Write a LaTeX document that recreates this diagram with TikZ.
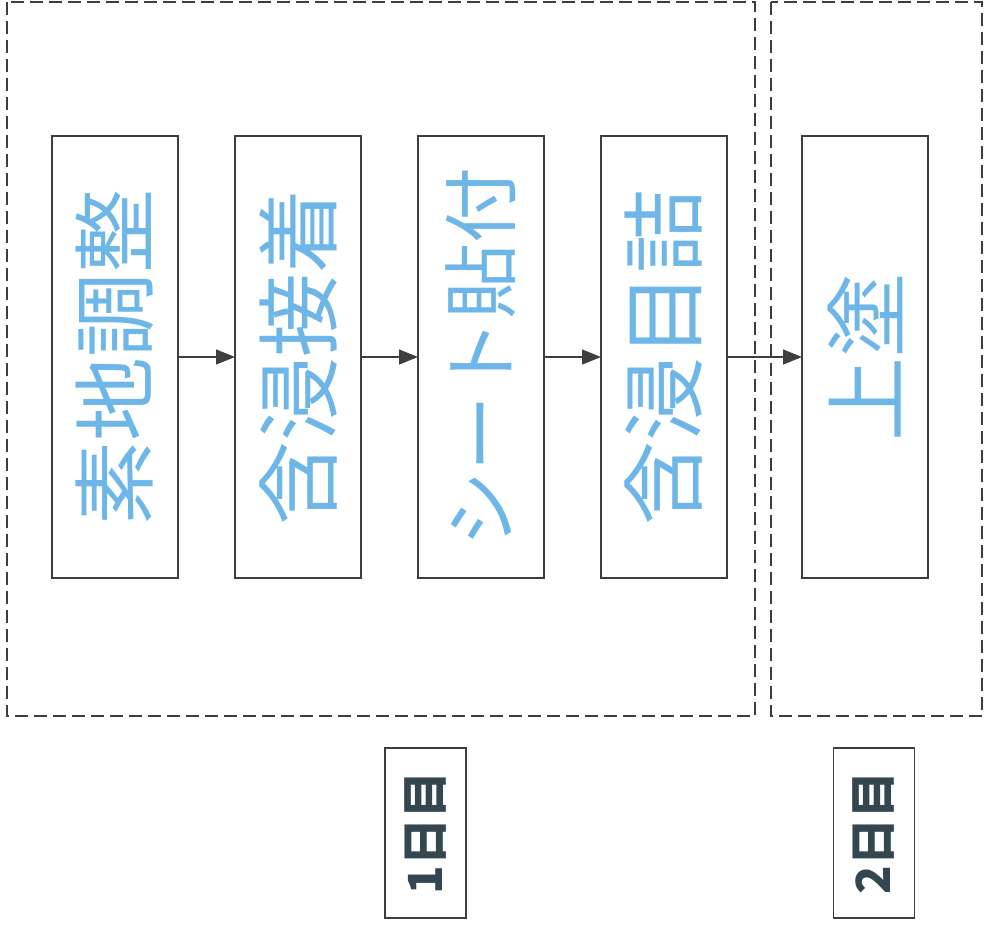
\documentclass[tikz,border=0pt]{standalone}
\usepackage{fontspec}
\usepackage{graphicx}
\setmainfont{Noto Sans CJK JP}
\usetikzlibrary{positioning,arrows.meta}
\definecolor{kouteiblue}{RGB}{110,182,232}
\definecolor{senGray}{RGB}{62,62,62}
\definecolor{hiGray}{RGB}{52,70,78}
\tikzset{node distance=57pt,
  koutei/.style={draw=senGray, line width=1.2pt, minimum width=126pt,
    minimum height=442pt, inner sep=0pt, outer sep=0pt, text=kouteiblue,
    font=\fontsize{84}{84}\selectfont},
  nichime/.style={draw=senGray, line width=1.2pt, minimum width=81pt,
    minimum height=170pt, inner sep=0pt, outer sep=0pt, text=hiGray,
    font=\bfseries\fontsize{47}{47}\selectfont},
  waku/.style={draw=senGray, line width=1.1pt, dash pattern=on 13pt off 6pt},
  pen/.style={draw=senGray, line width=1.2pt}}
\begin{document}
\begin{tikzpicture}[x=1pt, y=-1pt]
  \useasboundingbox (0,0) rectangle (985,928);

  % day frames
  \draw[waku] (7,2) rectangle (755,716);
  \draw[waku] (771,2) rectangle (982,716);

  % steps
  \node[koutei] (sozi) at (115,357) {\rotatebox{90}{素地調整}};
  \node[koutei] (gansetu) [right=of sozi] {\rotatebox{90}{含浸接着}};
  \node[koutei] (sheet) [right=of gansetu]
    {\rotatebox{90}{\fontsize{76}{76}\selectfont シート貼付}};
  \node[koutei] (meduma) [right=of sheet] {\rotatebox{90}{含浸目詰}};
  \node[koutei] (uwanuri) [right=75pt of meduma] {\rotatebox{90}{上塗}};

  % day labels
  \node[nichime] (day1) at (425.5,833) {\rotatebox{90}{1日目}};
  \node[nichime] (day2) at (874,833) {\rotatebox{90}{2日目}};

  \draw [pen, -{Triangle[length=19pt,width=15pt]}] (sozi) to (gansetu);
  \draw [pen, -{Triangle[length=19pt,width=15pt]}] (gansetu) to (sheet);
  \draw [pen, -{Triangle[length=19pt,width=15pt]}] (sheet) to (meduma);
  \draw [pen, -{Triangle[length=19pt,width=15pt]}] (meduma) to (uwanuri);
\end{tikzpicture}
\end{document}
